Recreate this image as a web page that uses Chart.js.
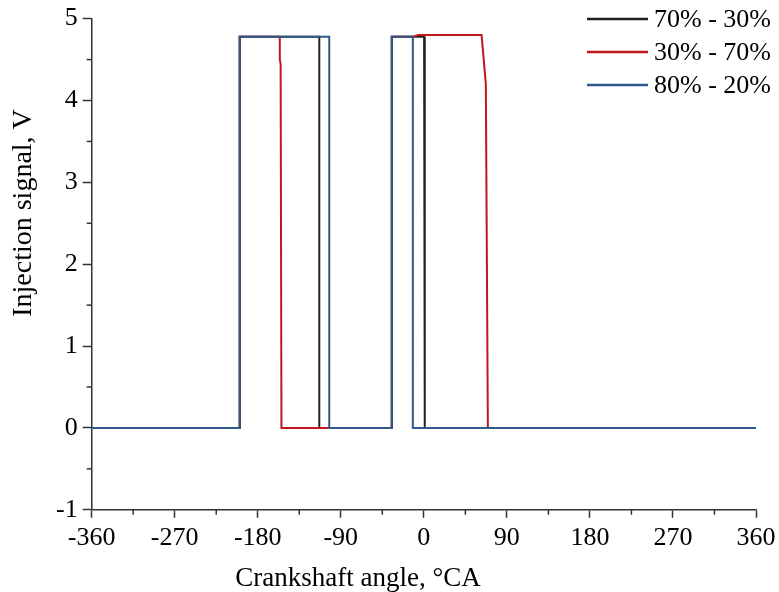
<!DOCTYPE html>
<html>
<head>
<meta charset="utf-8">
<script src="https://cdn.jsdelivr.net/npm/chart.js@4.4.1/dist/chart.umd.min.js"></script>
<style>
  html, body { margin: 0; padding: 0; background: #fff; }
  #wrap { width: 779px; height: 592px; }
</style>
</head>
<body>
<div id="wrap"><canvas id="chartLine"></canvas></div>
<script>
// crank angle (deg) and injection signal (V)
const blackX = [-360, -199.5, -199.5, -113.3, -113.3, -34.7, -34.7, 0.3, 1, 360];
const blackY = [0, 0, 4.78, 4.78, 0, 0, 4.78, 4.78, 0, 0];

const redX = [-360, -199.5, -199.5, -156.1, -156.1, -155.2, -154.3, -34.7, -34.7, -11, -6, 62.6, 67.2, 69.4, 360];
const redY = [0, 0, 4.78, 4.78, 4.5, 4.45, 0, 0, 4.78, 4.78, 4.8, 4.8, 4.2, 0, 0];

const blueX = [-360, -199.5, -199.5, -102.5, -102.5, -34.7, -34.7, -11.9, -11.9, 360];
const blueY = [0, 0, 4.78, 4.78, 0, 0, 4.78, 4.78, 0, 0];

const seriesLabels = ['70% - 30%', '30% - 70%', '80% - 20%'];
const xTicks = [-360, -270, -180, -90, 0, 90, 180, 270, 360];
const yTicks = [-1, 0, 1, 2, 3, 4, 5];
const xTitle = 'Crankshaft angle, °CA';
const yTitle = 'Injection signal, V';

const FONT = '"Liberation Serif", "Times New Roman", serif';

function pts(xs, ys) {
    return xs.map((x, i) => ({x: x, y: ys[i]}));
}

// legend drawn inside the plot, top right
const insideLegend = {
    id: 'insideLegend',
    afterDraw(chart) {
        const ctx = chart.ctx;
        ctx.save();
        ctx.font = '26px ' + FONT;
        ctx.textBaseline = 'middle';
        ctx.fillStyle = '#000';
        chart.data.datasets.forEach((ds, i) => {
            const y = 19 + i * 33;
            ctx.strokeStyle = ds.borderColor;
            ctx.lineWidth = 2.5;
            ctx.beginPath();
            ctx.moveTo(587, y);
            ctx.lineTo(648, y);
            ctx.stroke();
            ctx.fillText(ds.label, 654, y + 1);
        });
        ctx.restore();
    }
};

// axis titles sit off-centre in the original, so they are placed by hand
const axisTitles = {
    id: 'axisTitles',
    afterDraw(chart) {
        const ctx = chart.ctx;
        ctx.save();
        ctx.fillStyle = '#000';
        ctx.textAlign = 'center';
        ctx.textBaseline = 'alphabetic';
        ctx.font = '27px ' + FONT;
        ctx.fillText(xTitle, 358, 586);
        ctx.translate(31, 213);
        ctx.rotate(-Math.PI / 2);
        ctx.font = '28px ' + FONT;
        ctx.fillText(yTitle, 0, 0);
        ctx.restore();
    }
};

// short minor ticks halfway between the major ones
const minorTicks = {
    id: 'minorTicks',
    afterDraw(chart) {
        const ctx = chart.ctx;
        const xs = chart.scales.x, ys = chart.scales.y;
        ctx.save();
        ctx.strokeStyle = '#333';
        ctx.lineWidth = 1.5;
        for (let i = 0; i < xTicks.length - 1; i++) {
            const px = xs.getPixelForValue((xTicks[i] + xTicks[i + 1]) / 2);
            ctx.beginPath();
            ctx.moveTo(px, ys.bottom);
            ctx.lineTo(px, ys.bottom + 5);
            ctx.stroke();
        }
        for (let i = 0; i < yTicks.length - 1; i++) {
            const py = ys.getPixelForValue((yTicks[i] + yTicks[i + 1]) / 2);
            ctx.beginPath();
            ctx.moveTo(xs.left, py);
            ctx.lineTo(xs.left - 5, py);
            ctx.stroke();
        }
        ctx.restore();
    }
};

const data = {
    datasets: [
        {
            label: seriesLabels[0],
            data: pts(blackX, blackY),
            borderColor: '#222222',
            borderWidth: 2,
            pointRadius: 0,
            fill: false,
            order: 3,
        },
        {
            label: seriesLabels[1],
            data: pts(redX, redY),
            borderColor: '#c0161c',
            borderWidth: 2,
            pointRadius: 0,
            fill: false,
            order: 2,
        },
        {
            label: seriesLabels[2],
            data: pts(blueX, blueY),
            borderColor: '#2f5a8a',
            borderWidth: 2,
            pointRadius: 0,
            fill: false,
            order: 1,
        }
    ]
};

const configLineChart = {
    type: 'line',
    data,
    options: {
        responsive: true,
        maintainAspectRatio: false,
        animation: false,
        layout: {
            padding: {top: 0, right: 4, left: 51, bottom: 33}
        },
        scales: {
            x: {
                type: 'linear',
                min: -360,
                max: 360,
                afterBuildTicks: (scale) => { scale.ticks = xTicks.map(v => ({value: v})); },
                // the last label may hang a little past the canvas margin
                afterFit: (scale) => { scale.paddingRight = 23; },
                ticks: {
                    color: '#000',
                    font: {family: FONT, size: 26},
                    padding: 5,
                    maxRotation: 0,
                },
                grid: {
                    display: true,
                    drawOnChartArea: false,
                    tickLength: 8,
                    tickColor: '#333',
                    tickWidth: 1.5,
                },
                border: {color: '#333', width: 1.5},
            },
            y: {
                min: -1,
                max: 5,
                afterBuildTicks: (scale) => { scale.ticks = yTicks.map(v => ({value: v})); },
                ticks: {
                    color: '#000',
                    font: {family: FONT, size: 26, lineHeight: 1.05},
                    padding: 5,
                },
                grid: {
                    display: true,
                    drawOnChartArea: false,
                    tickLength: 9,
                    tickColor: '#333',
                    tickWidth: 1.5,
                },
                border: {color: '#333', width: 1.5},
            }
        },
        plugins: {
            legend: {display: false},
            tooltip: {enabled: false},
        },
        elements: {
            line: {tension: 0}
        }
    },
    plugins: [insideLegend, minorTicks, axisTitles]
};

var chartLine = new Chart(
    document.getElementById('chartLine'),
    configLineChart
);
</script>
</body>
</html>
